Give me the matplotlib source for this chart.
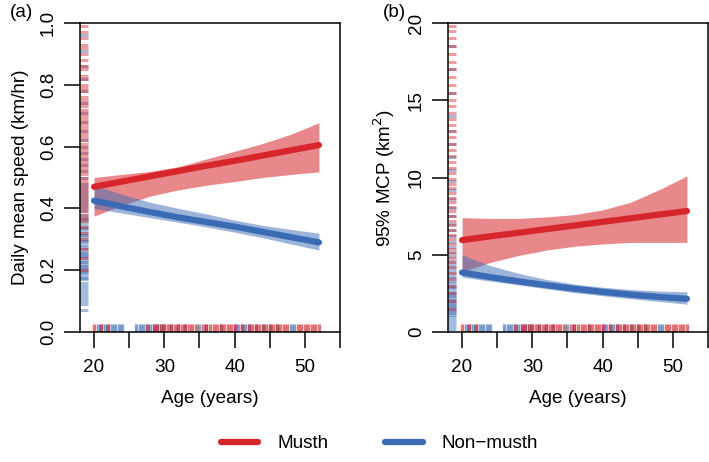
import matplotlib
matplotlib.use("Agg")
import matplotlib.pyplot as plt
from matplotlib.lines import Line2D
import numpy as np

plt.rcParams['font.family'] = ['Liberation Sans', 'DejaVu Sans']

RED = '#D7262B'
BLUE = '#3B6BB5'

# ---------------- data ----------------
ages = [20, 24, 28, 32, 36, 40, 44, 48, 52]

# (a) daily mean speed
speed_musth_fit = [0.470, 0.487, 0.504, 0.521, 0.538, 0.554, 0.571, 0.588, 0.605]
speed_musth_lo = [0.375, 0.410, 0.440, 0.460, 0.475, 0.487, 0.500, 0.510, 0.518]
speed_musth_hi = [0.500, 0.510, 0.520, 0.535, 0.560, 0.585, 0.610, 0.640, 0.677]
speed_non_fit = [0.425, 0.406, 0.388, 0.371, 0.356, 0.341, 0.324, 0.307, 0.290]
speed_non_lo = [0.400, 0.385, 0.370, 0.355, 0.340, 0.323, 0.305, 0.285, 0.265]
speed_non_hi = [0.475, 0.445, 0.420, 0.400, 0.382, 0.362, 0.345, 0.332, 0.320]

# (b) 95% MCP
mcp_musth_fit = [5.95, 6.19, 6.42, 6.66, 6.89, 7.13, 7.36, 7.60, 7.83]
mcp_musth_lo = [3.90, 4.50, 4.95, 5.30, 5.55, 5.70, 5.80, 5.80, 5.80]
mcp_musth_hi = [7.40, 7.35, 7.35, 7.45, 7.60, 7.90, 8.40, 9.20, 10.10]
mcp_non_fit = [3.85, 3.55, 3.28, 3.03, 2.80, 2.60, 2.42, 2.27, 2.15]
mcp_non_lo = [3.55, 3.30, 3.05, 2.80, 2.55, 2.35, 2.15, 1.98, 1.80]
mcp_non_hi = [5.00, 4.30, 3.80, 3.40, 3.10, 2.90, 2.75, 2.65, 2.60]

# rug: observed ages
rug_age_musth = [20, 21, 22, 27.5, 28.5, 29, 29.5, 30, 30.5, 31, 31.5, 32, 32.5, 33,
                 33.5, 34, 34.5, 35.5, 36, 36.5, 37, 37.5, 38, 38.5, 39, 39.5, 40,
                 41, 42, 42.5, 43, 43.5, 44, 44.5, 45, 45.5, 46, 46.5, 47, 47.5,
                 49, 49.5, 50, 50.5, 51, 51.5, 52]
rug_age_non = [20.5, 21, 21.5, 22, 22.5, 23, 23.5, 24, 26, 26.5, 27, 27.5, 28, 28.5,
               29, 29.5, 30, 31, 32, 33, 35, 36, 38, 40, 40.5, 41, 41.5, 42, 43, 44,
               45, 46, 48, 48.5]

# rug: observed responses
rug_speed_musth = [0.20, 0.24, 0.27, 0.30, 0.32, 0.34, 0.36, 0.37, 0.38, 0.39, 0.40,
                   0.41, 0.42, 0.43, 0.44, 0.45, 0.46, 0.47, 0.48, 0.49, 0.50, 0.51,
                   0.52, 0.53, 0.54, 0.55, 0.56, 0.57, 0.58, 0.59, 0.60, 0.61, 0.62,
                   0.63, 0.64, 0.65, 0.66, 0.67, 0.68, 0.69, 0.70, 0.71, 0.72, 0.73,
                   0.74, 0.75, 0.76, 0.78, 0.79, 0.80, 0.82, 0.83, 0.85, 0.86, 0.88,
                   0.90, 0.92, 0.93, 0.95, 0.97, 0.99]
rug_speed_non = [0.07, 0.09, 0.10, 0.11, 0.12, 0.13, 0.14, 0.15, 0.16, 0.17, 0.175,
                 0.18, 0.19, 0.195, 0.20, 0.205, 0.21, 0.215, 0.22, 0.225, 0.23,
                 0.24, 0.245, 0.25, 0.255, 0.26, 0.27, 0.275, 0.28, 0.29, 0.295,
                 0.30, 0.31, 0.315, 0.32, 0.33, 0.335, 0.34, 0.35, 0.36, 0.365,
                 0.37, 0.38, 0.39, 0.40, 0.41, 0.42, 0.43, 0.44, 0.45, 0.46, 0.47,
                 0.48, 0.50, 0.52, 0.54, 0.56, 0.58, 0.60, 0.62, 0.65, 0.68, 0.71,
                 0.74, 0.78, 0.82, 0.86, 0.91, 0.96]
rug_mcp_musth = [1.5, 2.0, 2.5, 3.0, 3.4, 3.8, 4.2, 4.5, 4.8, 5.1, 5.4, 5.7, 6.0, 6.3,
                 6.6, 6.9, 7.2, 7.5, 7.8, 8.1, 8.4, 8.7, 9.0, 9.3, 9.6, 9.9, 10.3,
                 10.6, 11.0, 11.4, 11.8, 12.2, 12.6, 13.0, 13.4, 13.8, 14.2, 14.6,
                 15.0, 15.5, 16.0, 16.5, 17.0, 17.5, 18.0, 18.5, 19.0, 19.5, 19.8]
rug_mcp_non = [0.2, 0.4, 0.6, 0.8, 1.0, 1.1, 1.2, 1.3, 1.4, 1.5, 1.6, 1.7, 1.8, 1.9,
               2.0, 2.1, 2.2, 2.3, 2.4, 2.5, 2.6, 2.8, 2.9, 3.0, 3.2, 3.3, 3.5, 3.6,
               3.8, 4.0, 4.2, 4.4, 4.6, 4.9, 5.2, 5.5, 5.8, 6.2, 6.6, 7.0, 7.5, 8.0,
               8.6, 9.2, 9.8, 10.5, 11.3, 12.2, 13.0, 14.0, 15.5, 17.0, 18.5]

x_ticks = [20, 25, 30, 35, 40, 45, 50, 55]
x_ticklabels = ['20', '', '30', '', '40', '', '50', '']

# ---------------- figure ----------------
fig = plt.figure(figsize=(7.09, 4.62), dpi=100)
W, H = 709, 462
axA = fig.add_axes([80 / W, 1 - 332 / H, 260 / W, 309 / H])
axB = fig.add_axes([448 / W, 1 - 332 / H, 260 / W, 309 / H])

FS = 13.6


def panel(ax, ylim, yticks, yticklabels, ylabel, mf, ml, mh, nf, nl, nh,
          rug_m, rug_n, label):
    ax.set_xlim(18, 55)
    ax.set_ylim(*ylim)
    ymax = ylim[1]
    # bands
    ax.fill_between(ages, ml, mh, color=RED, alpha=0.55, lw=0)
    ax.fill_between(ages, nl, nh, color=BLUE, alpha=0.5, lw=0)
    # rugs (x)
    h = 0.025 * ymax
    ax.vlines(rug_age_non, 0, h, colors=BLUE, lw=2.4, alpha=0.65)
    ax.vlines(rug_age_musth, 0, h, colors=RED, alpha=0.65, lw=2.4)
    # rugs (y)
    ax.hlines(rug_n, 18, 19.15, colors=BLUE, lw=2.2, alpha=0.45)
    ax.hlines(rug_m, 18, 19.15, colors=RED, lw=2.2, alpha=0.45)
    # fits
    ax.plot(ages, mf, color=RED, lw=4.5, solid_capstyle='round')
    ax.plot(ages, nf, color=BLUE, lw=4.5, solid_capstyle='round')

    ax.set_xticks(x_ticks)
    ax.set_xticklabels(x_ticklabels, fontsize=FS)
    ax.set_yticks(yticks)
    ax.set_yticklabels(yticklabels, fontsize=FS, rotation=90, va='center')
    ax.tick_params(axis='both', direction='out', length=11.5, width=1.1,
                   colors='black')
    ax.tick_params(axis='x', pad=8)
    ax.tick_params(axis='y', pad=5)
    for s in ax.spines.values():
        s.set_linewidth(1.1)
    ax.set_xlabel('Age (years)', fontsize=FS, labelpad=10)
    ax.set_ylabel(ylabel, fontsize=FS, labelpad=8)
    ax.text(-0.27 if label == '(a)' else -0.25, 1.035, label, transform=ax.transAxes,
            fontsize=FS, ha='left', va='center')


panel(axA, (0, 1.0), [0, 0.2, 0.4, 0.6, 0.8, 1.0],
      ['0.0', '0.2', '0.4', '0.6', '0.8', '1.0'], 'Daily mean speed (km/hr)',
      speed_musth_fit, speed_musth_lo, speed_musth_hi,
      speed_non_fit, speed_non_lo, speed_non_hi,
      rug_speed_musth, rug_speed_non, '(a)')
panel(axB, (0, 20), [0, 5, 10, 15, 20], ['0', '5', '10', '15', '20'],
      '95% MCP (km$^2$)',
      mcp_musth_fit, mcp_musth_lo, mcp_musth_hi,
      mcp_non_fit, mcp_non_lo, mcp_non_hi,
      rug_mcp_musth, rug_mcp_non, '(b)')

handles = [Line2D([], [], color=RED, lw=4.5, solid_capstyle='round'),
           Line2D([], [], color=BLUE, lw=4.5, solid_capstyle='round')]
fig.legend(handles, ['Musth', 'Non\u2212musth'], loc='center',
           bbox_to_anchor=(0.535, 0.04), ncol=2, frameon=False, fontsize=FS,
           handlelength=2.0, columnspacing=3.0, handletextpad=1.0)

fig.savefig('out.png', dpi=100)
